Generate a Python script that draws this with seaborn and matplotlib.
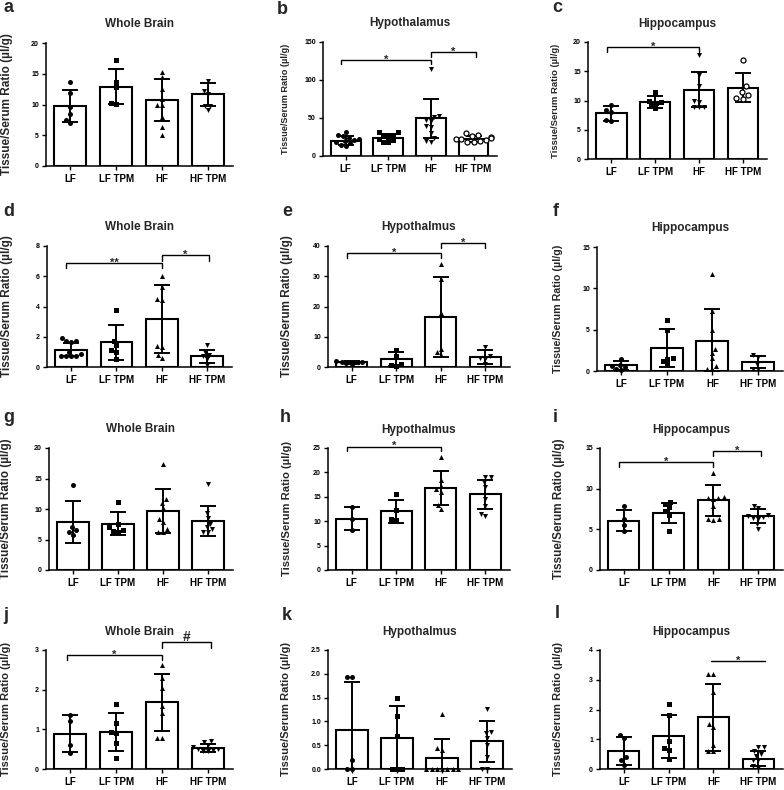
import numpy as np
import pandas as pd
import matplotlib
matplotlib.use("Agg")
import matplotlib.pyplot as plt
import seaborn as sns

# ---------------- data ----------------
GROUPS = ["LF", "LF TPM", "HF", "HF TPM"]
YLABEL = "Tissue/Serum Ratio (\u00b5l/g)"

# a  Whole Brain
A_MEAN = [9.75, 12.9, 10.7, 11.65]
A_SD = [2.6, 2.8, 3.4, 1.9]
A_PTS = [[13.6, 11.8, 9.6, 8.4, 7.5, 7.0],
         [17.2, 13.7, 12.8, 10.2, 10.1],
         [15.3, 14.4, 12.5, 10.9, 10.0, 9.9, 8.0, 6.4, 5.1],
         [13.9, 12.2, 11.7, 9.8, 9.8, 9.1]]
# b  Hypothalamus
B_MEAN = [20.1, 24.0, 49.4, 21.9]
B_SD = [6.0, 4.5, 25.4, 4.0]
B_PTS = [[31, 28, 26, 24, 22, 21, 20, 19, 17, 15, 13],
         [31, 31, 28, 27, 25, 23, 21, 19, 18],
         [115, 52, 51, 48, 46, 40, 38, 30, 24, 20, 19],
         [30, 28, 26, 25, 24, 23, 22, 21, 20, 19, 18]]
# c  Hippocampus
C_MEAN = [7.8, 9.8, 11.84, 12.2]
C_SD = [1.25, 1.0, 3.0, 2.5]
C_PTS = [[9.2, 8.3, 8.0, 6.6, 6.5],
         [11.4, 10.0, 9.8, 9.6, 9.2, 8.7],
         [17.7, 14.3, 12.5, 10.0, 9.8, 8.9, 8.9, 8.9],
         [17.0, 12.4, 11.5, 11.0, 10.5, 10.3]]
# d  Whole Brain
D_MEAN = [1.14, 1.62, 3.18, 0.70]
D_SD = [0.44, 1.15, 2.23, 0.42]
D_PTS = [[1.9, 1.75, 1.7, 1.65, 1.0, 0.85, 0.75, 0.7, 0.7, 0.7],
         [3.8, 1.75, 1.45, 1.1, 1.0, 0.55],
         [6.0, 5.3, 4.5, 4.4, 1.4, 1.3, 0.8, 0.6],
         [1.45, 1.0, 0.8, 0.7, 0.5, 0.15]]
# e  Hypothalmus
E_MEAN = [1.5, 2.6, 16.4, 3.3]
E_SD = [0.35, 2.3, 13.2, 2.2]
E_PTS = [[2.0, 1.8, 1.6, 1.5, 1.2, 1.0],
         [5.5, 3.5, 1.0, 0.5, 0.3],
         [34.2, 29.0, 18.0, 6.0, 5.0, 4.0],
         [6.5, 3.5, 3.0, 2.8, 1.0]]
# f  Hippocampus
F_MEAN = [0.69, 2.82, 3.67, 1.09]
F_SD = [0.55, 2.3, 3.8, 0.7]
F_PTS = [[1.5, 0.7, 0.65, 0.5, 0.2, 0.1],
         [6.2, 5.0, 1.6, 1.5, 1.2, 0.8],
         [11.7, 7.2, 5.0, 2.7, 2.2, 1.6, 0.6, 0.3, 0.2],
         [1.9, 1.7, 0.8, 0.3, 0.2]]
# g  Whole Brain
G_MEAN = [7.9, 7.6, 9.6, 8.0]
G_SD = [3.4, 1.85, 3.6, 2.5]
G_PTS = [[14.0, 7.1, 6.5, 6.3, 5.8],
         [11.2, 7.5, 7.0, 6.5, 6.4, 6.3],
         [17.3, 11.6, 11.0, 10.2, 8.4, 7.9, 6.8, 6.2, 6.2],
         [14.1, 9.3, 8.5, 7.6, 7.0, 6.8, 6.2, 6.2]]
# h  Hypothalmus
H_MEAN = [10.5, 12.0, 16.8, 15.5]
H_SD = [2.4, 2.4, 3.5, 2.9]
H_PTS = [[12.9, 10.5, 8.1],
         [15.6, 12.3, 10.5, 10.3],
         [23.2, 18.5, 17.3, 16.5, 16.0, 13.3, 12.5],
         [19.0, 19.0, 18.0, 17.0, 14.5, 13.2, 11.5, 11.0]]
# i  Hippocampus
I_MEAN = [6.04, 7.0, 8.55, 6.6]
I_SD = [1.3, 1.2, 1.85, 0.85]
I_PTS = [[7.9, 6.3, 5.5, 4.8],
         [8.3, 8.1, 7.7, 7.2, 6.8, 4.8],
         [11.9, 9.0, 8.9, 8.8, 8.7, 7.9, 6.3, 6.3, 6.2],
         [7.9, 7.6, 6.8, 6.6, 6.5, 6.4, 6.3, 5.6, 5.0]]
# j  Whole Brain
J_MEAN = [0.89, 0.93, 1.68, 0.53]
J_SD = [0.46, 0.47, 0.71, 0.10]
J_PTS = [[1.35, 1.2, 0.6, 0.4],
         [1.65, 1.17, 0.93, 0.92, 0.65, 0.27],
         [2.63, 2.3, 2.05, 1.6, 1.4, 0.77, 0.77],
         [0.7, 0.68, 0.6, 0.55, 0.5, 0.5, 0.48, 0.45, 0.45]]
# k  Hypothalmus
K_MEAN = [0.82, 0.66, 0.23, 0.58]
K_SD = [1.01, 0.66, 0.39, 0.43]
K_PTS = [[1.93, 1.93, 0.19, 0.0, 0.0],
         [1.5, 1.12, 0.69, 0.0, 0.0, 0.0],
         [1.15, 0.45, 0.4, 0, 0, 0, 0, 0, 0, 0],
         [1.27, 0.78, 0.75, 0.65, 0.5, 0.25, 0.0, 0.0]]
# l  Hippocampus
L_MEAN = [0.6, 1.1, 1.74, 0.35]
L_SD = [0.46, 0.72, 1.12, 0.26]
L_PTS = [[1.15, 1.05, 0.4, 0.3, 0.15],
         [2.2, 1.8, 0.95, 0.7, 0.65, 0.35],
         [3.2, 3.2, 2.6, 1.5, 1.4, 0.8, 0.6, 0.6],
         [0.75, 0.75, 0.6, 0.5, 0.45, 0.3, 0.3, 0.1, 0.05]]

# significance brackets: (x1, x2, y, drop, label)
B_SIG = [(-0.1, 2.0, 126.8, 6.0, "*"), (2.0, 3.05, 136.9, 6.9, "*")]
C_SIG = [(-0.1, 2.0, 19.1, 0.8, "*")]
D_SIG = [(-0.1, 2.0, 6.9, 0.35, "**"), (2.0, 3.05, 7.39, 0.35, "*")]
E_SIG = [(-0.1, 2.0, 37.8, 1.75, "*"), (2.0, 3.0, 41.0, 1.7, "*")]
H_SIG = [(-0.1, 2.0, 25.3, 1.0, "*")]
I_SIG = [(-0.1, 2.0, 13.3, 0.6, "*"), (2.0, 3.05, 14.6, 0.6, "*")]
J_SIG = [(-0.07, 2.0, 2.87, 0.13, "*"), (2.0, 3.08, 3.19, 0.15, "#")]
L_SIG = [(1.95, 3.15, 3.62, 0.0, "*")]

# ---------------- style ----------------
sns.set_theme(style="ticks")
plt.rcParams["font.family"] = ["Liberation Sans", "DejaVu Sans"]
plt.rcParams["font.weight"] = "bold"

W, H = 784, 790
fig = plt.figure(figsize=(W / 100, H / 100), dpi=100)
fig.patch.set_facecolor("white")

FILLED = ["o", "s", "^", "v"]
OPEN_C = ["o", "s", "v", "open"]

# (letter, title, mean, sd, pts, markers, ymax, ystep, fmt, sig,
#  axes box px (x0, x1, y_top, y_bottom), letter px, title y px, ylabel x px, ylabel size)
PANELS = [
    ("a", "Whole Brain", A_MEAN, A_SD, A_PTS, FILLED, 20, 5, "%d", [], (46, 233, 43, 166), (3, 8), 24, 7, 8.5),
    ("b", "Hypothalamus", B_MEAN, B_SD, B_PTS, OPEN_C, 150, 50, "%d", B_SIG, (323, 497, 42, 156), (277, 10), 23, 285, 6.6),
    ("c", "Hippocampus", C_MEAN, C_SD, C_PTS, OPEN_C, 20, 5, "%d", C_SIG, (588, 767, 42, 159), (552, 8), 24, 555, 6.8),
    ("d", "Whole Brain", D_MEAN, D_SD, D_PTS, FILLED, 8, 2, "%d", D_SIG, (47, 232, 246, 367), (3, 212), 227, 7, 8.5),
    ("e", "Hypothalmus", E_MEAN, E_SD, E_PTS, FILLED, 40, 10, "%d", E_SIG, (328, 510, 246, 367), (282, 212), 227, 287, 8.5),
    ("f", "Hippocampus", F_MEAN, F_SD, F_PTS, FILLED, 15, 5, "%d", [], (597, 783, 247, 371), (553, 212), 228, 558, 7.7),
    ("g", "Whole Brain", G_MEAN, G_SD, G_PTS, FILLED, 20, 5, "%d", [], (49, 233, 448, 570), (3, 417), 429, 6, 8.4),
    ("h", "Hypothalmus", H_MEAN, H_SD, H_PTS, FILLED, 25, 5, "%d", H_SIG, (328, 510, 448, 570), (280, 417), 430, 287, 8.1),
    ("i", "Hippocampus", I_MEAN, I_SD, I_PTS, FILLED, 15, 5, "%d", I_SIG, (600, 783, 448, 570), (553, 417), 430, 559, 8.4),
    ("j", "Whole Brain", J_MEAN, J_SD, J_PTS, FILLED, 3, 1, "%d", J_SIG, (46, 233, 650, 769), (3, 616), 632, 6, 8.0),
    ("k", "Hypothalmus", K_MEAN, K_SD, K_PTS, FILLED, 2.5, 0.5, "%.1f", [], (328, 512, 650, 769), (282, 616), 632, 286, 8.0),
    ("l", "Hippocampus", L_MEAN, L_SD, L_PTS, FILLED, 4, 1, "%d", L_SIG, (600, 783, 650, 769), (555, 614), 632, 558, 8.0),
]

for (letter, title, mean, sd, pts, markers, ymax, ystep, fmt, sig,
     box, lpos, ty, ylx, ylsize) in PANELS:
    x0, x1, yt, yb = box
    ax = fig.add_axes([x0 / W, 1 - yb / H, (x1 - x0) / W, (yb - yt) / H])
    ax.set_xlim(-0.53, 3.55)
    ax.set_ylim(0, ymax)

    sns.barplot(x=GROUPS, y=mean, order=GROUPS, color="white", edgecolor="black",
                linewidth=1.5, width=0.7, errorbar=None, saturation=1, ax=ax, zorder=1)
    ax.errorbar(np.arange(4), mean, yerr=sd, fmt="none", ecolor="black",
                elinewidth=1.4, capsize=5.5, capthick=1.4, zorder=3)
    for gi, g in enumerate(GROUPS):
        df = pd.DataFrame({"group": [g] * len(pts[gi]), "value": pts[gi]})
        m = markers[gi]
        if m == "open":
            sns.swarmplot(data=df, x="group", y="value", order=GROUPS, marker="o",
                          color="white", edgecolor="black", linewidth=0.9, size=3.6,
                          ax=ax, zorder=4, clip_on=False)
        else:
            sns.swarmplot(data=df, x="group", y="value", order=GROUPS, marker=m,
                          color="black", linewidth=0, size=3.6,
                          ax=ax, zorder=4, clip_on=False)

    ax.set_xlim(-0.53, 3.55)
    ax.set_ylim(0, ymax)
    ticks = np.arange(0, ymax + ystep / 2, ystep)
    ax.set_yticks(ticks)
    ax.set_yticklabels([fmt % v for v in ticks], fontsize=5, fontweight="bold")
    ax.set_xticks(range(4))
    ax.set_xticklabels(GROUPS, fontsize=7, fontweight="bold")
    ax.set_xlabel("")
    ax.set_ylabel("")
    ax.tick_params(axis="both", colors="black", length=3, width=1)
    ax.tick_params(axis="y", pad=2)
    ax.tick_params(axis="x", pad=3)
    sns.despine(ax=ax)
    for s in ("left", "bottom"):
        ax.spines[s].set_linewidth(1.1)
        ax.spines[s].set_color("black")
    ax.set_facecolor("none")

    for (a1, a2, yy, drop, lab) in sig:
        ax.plot([a1, a1, a2, a2], [yy - drop, yy, yy, yy - drop], color="black",
                lw=1.0, clip_on=False, zorder=5, solid_joinstyle="miter")
        ax.annotate(lab, ((a1 + a2) / 2, yy), xytext=(0, -2 if lab != "#" else 1),
                    textcoords="offset points", ha="center", va="baseline",
                    fontsize=8 if lab != "#" else 10, fontweight="bold",
                    annotation_clip=False)

    fig.text((x0 + x1) / 2 / W, 1 - ty / H, title, ha="center", va="center",
             fontsize=8.5, fontweight="bold")
    fig.text(lpos[0] / W, 1 - lpos[1] / H, letter, ha="left", va="center",
             fontsize=13, fontweight="bold")
    fig.text(ylx / W, 1 - (yt + yb) / 2 / H, YLABEL, ha="center", va="center",
             rotation=90, fontsize=ylsize, fontweight="bold")

fig.savefig("out.png", dpi=100, facecolor="white")
